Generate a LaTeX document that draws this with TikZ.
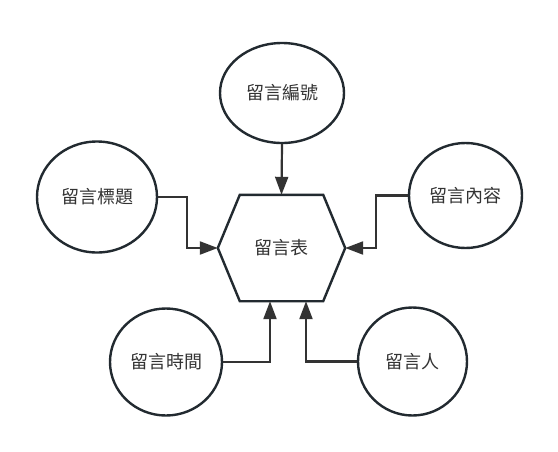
\documentclass[tikz,border=0pt]{standalone}
\usepackage{fontspec}
\newfontfamily\cjk{Noto Sans CJK TC}
\usetikzlibrary{arrows.meta,shapes.geometric}
\definecolor{edge}{HTML}{222a30}
\definecolor{conncol}{HTML}{333333}
\definecolor{txt}{HTML}{333333}
\begin{document}
\begin{tikzpicture}[x=1pt,y=-1pt,
  attr/.style={ellipse,draw=edge,line width=2.4pt,inner sep=0pt,font=\cjk\fontsize{18}{20}\selectfont,text=txt},
  conn/.style={draw=conncol,line width=2.2pt,-{Triangle[length=18pt,width=13pt]}},
  hexbox/.style={rectangle,inner sep=0pt,minimum width=127pt,minimum height=106pt,font=\cjk\fontsize{18}{20}\selectfont,text=txt}]
\fill[white] (0,0) rectangle (558,451);
\useasboundingbox (0,0) rectangle (558,451);
\node[hexbox] (h) at (281.5,248) {留言表};
\draw[edge,line width=2.4pt,line join=miter] (h.west) -- ([xshift=22pt]h.north west) -- ([xshift=-22pt]h.north east) -- (h.east) -- ([xshift=-22pt]h.south east) -- ([xshift=22pt]h.south west) -- cycle;
\node[attr,minimum width=124pt,minimum height=100pt] (t) at (282,93) {留言編號};
\node[attr,minimum width=120pt,minimum height=111pt] (l) at (97,197) {留言標題};
\node[attr,minimum width=113pt,minimum height=105pt] (r) at (465.5,195.5) {留言內容};
\node[attr,minimum width=112pt,minimum height=107pt] (bl) at (166,362) {留言時間};
\node[attr,minimum width=109pt,minimum height=108pt] (br) at (412.5,361.5) {留言人};
\draw[conn] (t.south) -- (h.north);
\draw[conn] (l.east) -- ++(29,0) |- (h.west);
\draw[conn] (r.west) -- ++(-32,0) |- (h.east);
\draw[conn] (bl.east) -| ([xshift=-11.5pt]h.south);
\draw[conn] (br.west) -| ([xshift=24.5pt]h.south);
\end{tikzpicture}
\end{document}
